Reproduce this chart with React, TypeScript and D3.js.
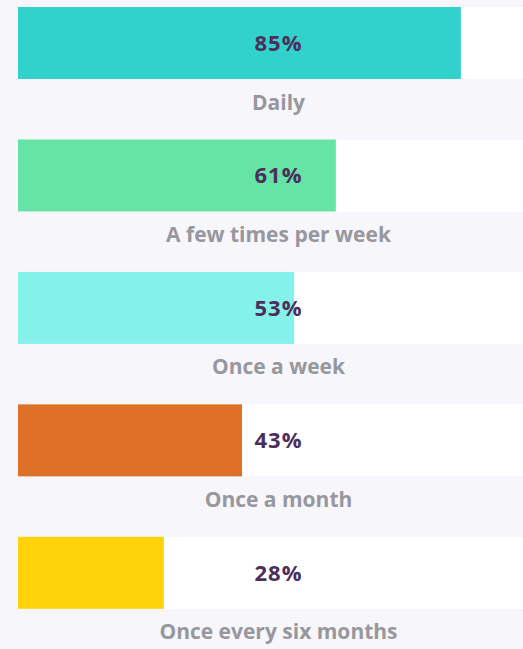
import React from "react";
import * as d3 from "d3";

const categories = ["Daily", "A few times per week", "Once a week", "Once a month", "Once every six months"];
const values = [85, 61, 53, 43, 28];
const colors = ["#33d1cc", "#66e3a6", "#86f0ea", "#de7027", "#ffd20a"];

const W = 523;
const H = 649;

export default function App() {
  const x = d3.scaleLinear().domain([0, 100]).range([18, 539]);
  const y = d3.scaleBand<string>().domain(categories).range([7, 7 + 132.45 * 5]).paddingInner(0).paddingOuter(0);
  const barH = 72;
  const cx = (x(0) + x(100)) / 2;
  return (
    <div style={{ position: "fixed", left: 0, top: 0, width: W, height: H, background: "#f7f6fa" }}>
      <svg width={W} height={H} style={{ display: "block" }}>
        <rect x={0} y={0} width={W} height={H} fill="#f7f6fa" />
        {categories.map((c, i) => {
          const y0 = y(c)!;
          return (
            <g key={c}>
              <rect x={x(0)} y={y0} width={x(100) - x(0)} height={barH} fill="#ffffff" />
              <rect x={x(0)} y={y0} width={x(values[i]) - x(0)} height={barH} fill={colors[i]} />
              <text x={cx} y={y0 + barH / 2 + 8} textAnchor="middle"
                fontFamily="'Open Sans', sans-serif" fontWeight={700} fontSize={22}
                letterSpacing={1} fill="#4b2f5a">{values[i]}%</text>
              <text x={cx} y={y0 + barH + 30.5} textAnchor="middle"
                fontFamily="'Open Sans', sans-serif" fontWeight={700} fontSize={21}
                fill="#97979e">{c}</text>
            </g>
          );
        })}
      </svg>
    </div>
  );
}
